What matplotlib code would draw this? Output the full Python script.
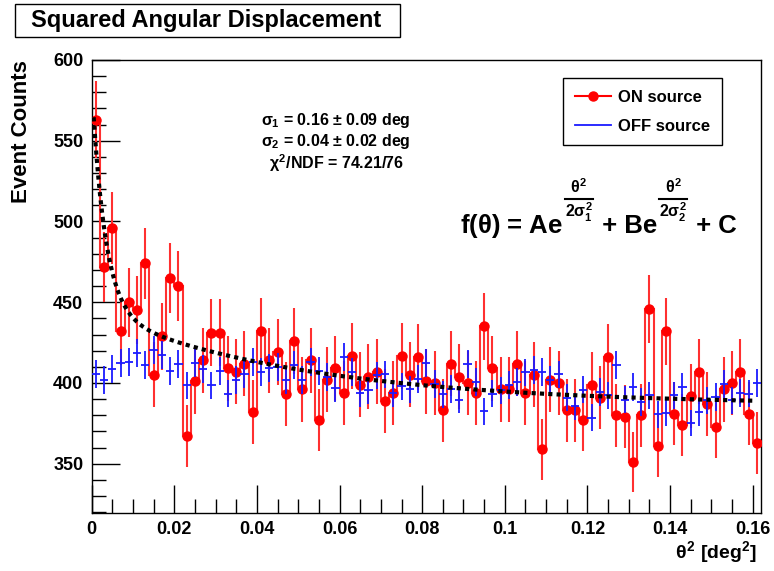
import numpy as np
import matplotlib
matplotlib.use("Agg")
import matplotlib.pyplot as plt
import matplotlib.ticker as ticker
from matplotlib.lines import Line2D
from matplotlib.patches import Rectangle

plt.rcParams["font.family"] = ["Liberation Sans", "DejaVu Sans"]
plt.rcParams["font.weight"] = "bold"
plt.rcParams["mathtext.fontset"] = "custom"
plt.rcParams["mathtext.rm"] = "Liberation Sans:bold"
plt.rcParams["mathtext.it"] = "Liberation Sans:bold"
plt.rcParams["mathtext.bf"] = "Liberation Sans:bold"

# histogram binning in theta^2 [deg^2]
n_bins = 81
bin_width = 0.002

# ON source counts per bin
on_counts = [
    563, 472, 496, 432, 450, 445, 474, 405, 429, 465,
    460, 367, 401, 414, 431, 431, 409, 407, 412, 382,
    432, 414, 419, 393, 426, 396, 414, 377, 402, 409,
    394, 417, 399, 404, 407, 389, 394, 417, 405, 416,
    401, 400, 383, 412, 404, 400, 394, 435, 409, 396,
    396, 412, 394, 405, 359, 402, 400, 383, 383, 377,
    399, 391, 416, 380, 379, 351, 380, 446, 361, 432,
    381, 374, 392, 407, 387, 373, 396, 400, 407, 381,
    363,
]

# OFF source counts per bin (normalised)
off_counts = [
    405.7, 402.0, 408.8, 412.3, 413.0, 418.5, 411.3, 420.6, 417.1, 407.4,
    411.9, 398.5, 412.3, 408.8, 398.5, 407.4, 393.3, 402.0, 405.3, 413.0,
    406.7, 409.4, 410.0, 402.0, 410.9, 402.0, 413.0, 407.4, 403.6, 397.0,
    416.0, 406.7, 393.7, 395.4, 404.7, 405.3, 393.7, 397.9, 396.0, 402.6,
    412.5, 399.5, 392.9, 396.4, 389.6, 411.9, 400.5, 382.6, 393.3, 395.4,
    398.9, 400.5, 406.5, 408.2, 406.7, 402.0, 405.3, 390.8, 385.5, 395.8,
    378.5, 394.4, 392.3, 410.9, 389.6, 397.5, 388.2, 392.3, 380.5, 381.4,
    392.3, 397.5, 375.2, 382.0, 389.2, 391.3, 399.5, 389.2, 393.8, 393.4,
    400.0,
]
off_exposure_ratio = 5.5

# fit: A exp(-t2/2s1^2) + B exp(-t2/2s2^2) + C
fit_A = 58.0
fit_sigma1 = 0.16
fit_B = 141.0
fit_sigma2 = 0.04
fit_C = 386.5
fit_range = (0.0005, 0.1605)

stats_lines = [
    r"$\sigma_{1}$ = 0.16 $\pm$ 0.09 deg",
    r"$\sigma_{2}$ = 0.04 $\pm$ 0.02 deg",
    r"$\chi^{2}$/NDF = 74.21/76",
]
# formula pieces: (main text, exponent numerator, exponent denominator)
formula_parts = [
    (r"f($\theta$) = Ae", r"$\theta^{2}$", r"2$\sigma_{1}^{2}$"),
    (" + Be", r"$\theta^{2}$", r"2$\sigma_{2}^{2}$"),
    (" + C", None, None),
]

W, H = 774, 571
fig = plt.figure(figsize=(W / 100, H / 100), dpi=100)
ax = fig.add_axes([91.6 / W, 1 - 513 / H, (761 - 91.6) / W, (513 - 60) / H])

on = np.array(on_counts, dtype=float)
off = np.array(off_counts, dtype=float)
edges = np.arange(n_bins + 1) * bin_width
centers = edges[:-1] + bin_width / 2

ax.stairs(on, edges, baseline=None, color="#ff3030", lw=1.5, zorder=2)
ax.errorbar(centers, on, yerr=np.sqrt(on), fmt="o", color="red", ecolor="#ff3030",
            ms=6.5, elinewidth=1.5, capsize=0, zorder=3)
ax.errorbar(centers, off, xerr=bin_width / 2, yerr=np.sqrt(off / off_exposure_ratio),
            fmt="none", ecolor="#1a1aff", elinewidth=1.3, capsize=0, zorder=4)

fx = np.linspace(fit_range[0], fit_range[1], 400)
fy = (fit_A * np.exp(-fx / (2 * fit_sigma1 ** 2))
      + fit_B * np.exp(-fx / (2 * fit_sigma2 ** 2)) + fit_C)
ax.plot(fx, fy, color="black", lw=3, linestyle=(0, (1, 1)), dash_capstyle="butt", zorder=5)

ax.set_xlim(0, n_bins * bin_width)
ax.set_ylim(319.5, 600)
ax.xaxis.set_major_locator(ticker.MultipleLocator(0.02))
ax.xaxis.set_minor_locator(ticker.MultipleLocator(0.005))
ax.yaxis.set_major_locator(ticker.MultipleLocator(50))
ax.yaxis.set_minor_locator(ticker.MultipleLocator(10))
ax.xaxis.set_major_formatter(ticker.FuncFormatter(lambda v, p: f"{v:g}"))
ax.tick_params(which="both", direction="in", top=False, right=False, width=1)
ax.tick_params(which="major", length=20, labelsize=13, pad=6)
ax.tick_params(which="minor", length=10)
for lbl in ax.get_xticklabels() + ax.get_yticklabels():
    lbl.set_fontweight("bold")
for sp in ax.spines.values():
    sp.set_linewidth(1)

fig.text(22 / W, 1 - 60 / H, "Event Counts", rotation=90, ha="center", va="top",
         fontsize=16, fontweight="bold")
fig.text(757 / W, 1 - 552 / H, r"$\theta^{2}$ [deg$^{2}$]", ha="right", va="center",
         fontsize=14, fontweight="bold")

for k, line in enumerate(stats_lines):
    fig.text(336 / W, 1 - (121 + 21 * k) / H, line, ha="center", va="center", fontsize=11.5)

# formula laid out piece by piece so the exponents are large fractions
renderer = fig.canvas.get_renderer()
x_px = 460.0
base_px = H - 233.0
for main, num, den in formula_parts:
    t = fig.text(x_px / W, base_px / H, main, ha="left", va="baseline", fontsize=18.5)
    x_px = t.get_window_extent(renderer).x1
    if num is None:
        continue
    frac_w = 28.0
    cx = x_px + 2 + frac_w / 2
    bar_y = base_px + 34
    fig.text(cx / W, (bar_y + 3) / H, num, ha="center", va="bottom", fontsize=11.5)
    fig.text(cx / W, (bar_y - 2) / H, den, ha="center", va="top", fontsize=11.5)
    fig.add_artist(Line2D([(cx - frac_w / 2) / W, (cx + frac_w / 2) / W],
                          [bar_y / H, bar_y / H], color="black", lw=1.5,
                          transform=fig.transFigure))
    x_px = cx + frac_w / 2 + 2

fig.add_artist(Rectangle((15 / W, 1 - 37 / H), (400 - 15) / W, 33 / H,
                         transform=fig.transFigure, facecolor="white",
                         edgecolor="black", lw=1))
fig.text(31 / W, 1 - 20 / H, "Squared Angular Displacement", ha="left", va="center",
         fontsize=17, fontweight="bold")

handles = [Line2D([], [], color="red", marker="o", ms=6.5, lw=1.5),
           Line2D([], [], color="#1a1aff", lw=1.3)]
leg = fig.legend(handles, ["ON source", "OFF source"], loc="upper left",
                 bbox_to_anchor=(563 / W, 1 - 78 / H), frameon=True, fancybox=False,
                 edgecolor="black", framealpha=1, fontsize=12, handlelength=2.2,
                 handletextpad=0.4, labelspacing=0.85, borderpad=0.7,
                 borderaxespad=0)
leg.get_frame().set_linewidth(1)
for t in leg.get_texts():
    t.set_fontweight("bold")

fig.savefig("out.png", dpi=100)
